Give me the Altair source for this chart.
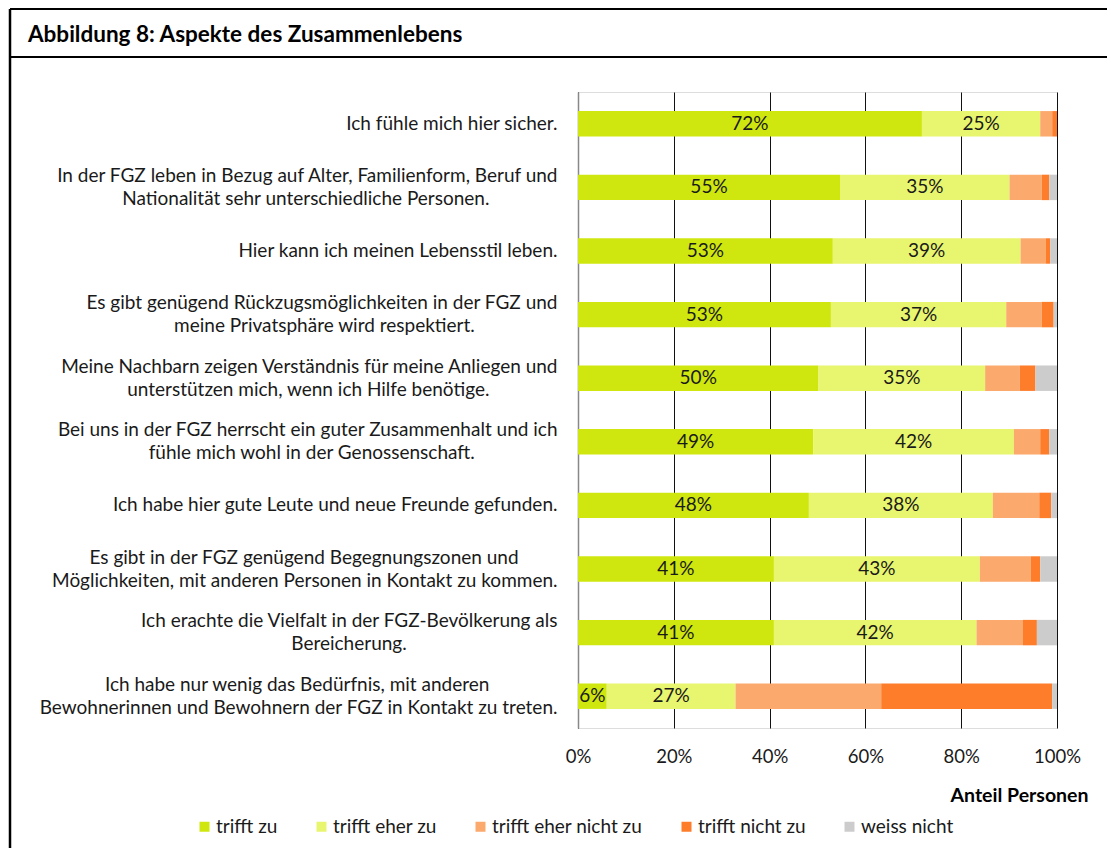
import altair as alt
import pandas as pd

items = [
    "Ich fühle mich hier sicher.",
    "In der FGZ leben in Bezug auf Alter, Familienform, Beruf und|Nationalität sehr unterschiedliche Personen.",
    "Hier kann ich meinen Lebensstil leben.",
    "Es gibt genügend Rückzugsmöglichkeiten in der FGZ und|meine Privatsphäre wird respektiert.",
    "Meine Nachbarn zeigen Verständnis für meine Anliegen und|unterstützen mich, wenn ich Hilfe benötige.",
    "Bei uns in der FGZ herrscht ein guter Zusammenhalt und ich|fühle mich wohl in der Genossenschaft.",
    "Ich habe hier gute Leute und neue Freunde gefunden.",
    "Es gibt in der FGZ genügend Begegnungszonen und|Möglichkeiten, mit anderen Personen in Kontakt zu kommen.",
    "Ich erachte die Vielfalt in der FGZ-Bevölkerung als|Bereicherung.",
    "Ich habe nur wenig das Bedürfnis, mit anderen|Bewohnerinnen und Bewohnern der FGZ in Kontakt zu treten.",
]
# trailing non-breaking spaces so that the shorter line of a two-line label sits centred (line1, line2)
label_pad = [(0, 0), (0, 14), (0, 0), (0, 17), (0, 14), (0, 17), (0, 0), (8, 0), (0, 31), (14, 0)]

categories = ["trifft zu", "trifft eher zu", "trifft eher nicht zu", "trifft nicht zu", "weiss nicht"]
colors = ["#CFE70F", "#E8F56E", "#FBA96C", "#FD7D2B", "#CCCCCC"]

trifft_zu = [71.8, 54.7, 53.2, 52.8, 50.2, 49.1, 48.2, 40.9, 40.9, 6.0]
trifft_eher_zu = [24.7, 35.4, 39.2, 36.6, 34.8, 41.9, 38.4, 43.0, 42.3, 26.9]
trifft_eher_nicht_zu = [2.5, 6.7, 5.2, 7.4, 7.2, 5.5, 9.7, 10.6, 9.7, 30.4]
trifft_nicht_zu = [1.0, 1.6, 1.0, 2.5, 3.3, 1.9, 2.5, 2.0, 2.9, 35.7]
weiss_nicht = [0.0, 1.6, 1.4, 0.7, 4.5, 1.6, 1.2, 3.5, 4.2, 1.0]

NB = "\u00a0"
ZW = "\u200b"
def display(label, pad):
    parts = label.split("|")
    return "|".join(p + (NB * n + ZW if n else "") for p, n in zip(parts, pad))

disp_items = [display(it, p) for it, p in zip(items, label_pad)]

series = [trifft_zu, trifft_eher_zu, trifft_eher_nicht_zu, trifft_nicht_zu, weiss_nicht]
rows = []
for ci, (cat, vals) in enumerate(zip(categories, series)):
    for it, v in zip(disp_items, vals):
        rows.append({"item": it, "cat": cat, "idx": ci, "value": v})
df = pd.DataFrame(rows)

FONT = "Lato"
FS = 19

y_enc = alt.Y(
    "item:N",
    sort=disp_items,
    scale=alt.Scale(paddingInner=0.6, paddingOuter=0.3),
    axis=alt.Axis(
        title=None,
        labelExpr="split(datum.label, '|')",
        labelFontSize=FS,
        labelFont=FONT,
        labelColor="#1a1a1a",
        labelLineHeight=23,
        labelPadding=21,
        labelLimit=700,
        labelOffset={"condition": {"test": "indexof(datum.label, '|') >= 0", "value": -11.5}, "value": 0},
        ticks=False,
        domainColor="#888888",
        domainWidth=1.5,
        grid=False,
    ),
)

bars = alt.Chart(df).mark_bar().encode(
    x=alt.X(
        "value:Q",
        stack="zero",
        scale=alt.Scale(domain=[0, 100], nice=False),
        axis=alt.Axis(
            values=[0, 20, 40, 60, 80, 100],
            labelExpr="datum.value + '%'",
            labelFontSize=18.5,
            labelFont=FONT,
            labelColor="#1a1a1a",
            labelPadding=19,
            labelFlush=False,
            ticks=False,
            domain=False,
            grid=True,
            gridColor="#111111",
            gridWidth=1,
            title="Anteil Personen",
            titleFont=FONT,
            titleFontSize=19.5,
            titleFontWeight="bold",
            titleColor="#000000",
            titleAlign="right",
            titleAnchor="end",
            titleX=510,
            titleY=67,
            titleBaseline="middle",
        ),
    ),
    y=y_enc,
    color=alt.Color(
        "cat:N",
        scale=alt.Scale(domain=categories, range=colors),
        legend=alt.Legend(
            title=None,
            orient="none",
            direction="horizontal",
            legendX=-383,
            legendY=725,
            symbolType="square",
            symbolSize=100,
            symbolStrokeWidth=0,
            labelFont=FONT,
            labelFontSize=FS,
            labelColor="#1a1a1a",
            labelOffset=2,
            columnPadding=34,
        ),
    ),
    order=alt.Order("idx:Q", sort="ascending"),
)

texts = alt.Chart(df).transform_stack(
    stack="value", groupby=["item"], as_=["x0", "x1"], sort=[alt.SortField("idx", order="ascending")]
).transform_calculate(
    mid="(datum.x0 + datum.x1) / 2",
    label="format(datum.value, '.0f') + '%'",
).transform_filter("datum.idx <= 1").mark_text(
    font=FONT, fontSize=19, color="#1a1a1a", baseline="middle", align="center"
).encode(
    x=alt.X("mid:Q"),
    y=alt.Y("item:N", sort=disp_items),
    text="label:N",
)

one = pd.DataFrame({"a": [0]})
frame_left = alt.Chart(one).mark_rule(color="#000000", strokeWidth=2.5).encode(
    x=alt.value(-568), y=alt.value(-83), y2=alt.value(800)
)
frame_top = alt.Chart(one).mark_rule(color="#000000", strokeWidth=2).encode(
    x=alt.value(-568), x2=alt.value(560), y=alt.value(-83)
)
frame_sep = alt.Chart(one).mark_rule(color="#000000", strokeWidth=2).encode(
    x=alt.value(-568), x2=alt.value(560), y=alt.value(-35)
)
title = alt.Chart(one).mark_text(
    text="Abbildung 8: Aspekte des Zusammenlebens",
    font=FONT, fontSize=22.5, fontWeight="bold", color="#000000", align="left", baseline="middle"
).encode(x=alt.value(-550), y=alt.value(-57))

chart = alt.layer(bars, texts, frame_left, frame_top, frame_sep, title).properties(
    width=479,
    height=636,
    autosize=alt.AutoSizeParams(type="none"),
    padding={"left": 570, "top": 84, "right": 50, "bottom": 120},
).configure_view(stroke=None).configure(background="#ffffff")

chart.save("out.html", embed_options={"renderer": "svg", "actions": False})
